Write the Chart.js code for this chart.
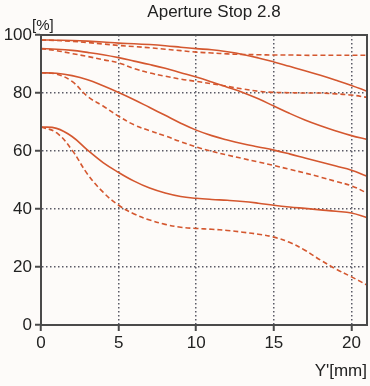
<!DOCTYPE html>
<html>
<head>
<meta charset="utf-8">
<script src="https://cdn.jsdelivr.net/npm/chart.js@4"></script>
<style>
  html, body { margin: 0; padding: 0; background: #fdfbf9; }
  #mtf-chart { width: 370px; height: 386px; }
</style>
</head>
<body>
<div id="mtf-chart"><canvas id="mtfCanvas" width="370" height="386"></canvas></div>
<script>
// Posiciones en la imagen (mm) y valores MTF (%)
var imageHeight = [0, 1, 2, 3, 4, 5, 6, 7, 8, 9, 10, 11, 12, 13, 14, 15, 16, 17, 18, 19, 20, 21];

var sagittal10 = [98.3, 98.2, 98.1, 97.9, 97.6, 97.2, 97.0, 96.7, 96.3, 95.8, 95.3, 94.9, 94.2, 93.3, 92.1, 90.7, 89.2, 87.7, 86.1, 84.4, 82.6, 80.6];
var meridional10 = [98.3, 98.1, 97.8, 97.4, 96.9, 96.4, 96.0, 95.6, 95.1, 94.6, 94.1, 93.8, 93.5, 93.3, 93.2, 93.1, 93.1, 93.0, 93.0, 93.0, 93.0, 93.0];
var sagittal20 = [95.3, 95.1, 94.7, 94.0, 93.2, 92.2, 91.0, 89.8, 88.5, 87.0, 85.5, 83.8, 82.0, 80.2, 78.0, 75.5, 73.0, 70.7, 68.7, 66.9, 65.3, 64.0];
var meridional20 = [95.3, 94.6, 93.6, 92.6, 91.5, 90.4, 88.4, 86.9, 85.8, 84.8, 84.0, 83.2, 82.3, 81.4, 80.6, 80.2, 80.1, 80.0, 80.0, 79.7, 79.3, 78.5];
var sagittal30 = [87.0, 86.8, 86.0, 84.6, 82.5, 80.2, 77.7, 75.0, 72.3, 69.6, 67.2, 65.3, 63.8, 62.5, 61.4, 60.3, 59.0, 57.6, 56.2, 54.8, 53.4, 51.3];
var meridional30 = [87.0, 86.5, 84.0, 78.8, 75.5, 72.0, 69.0, 67.0, 65.2, 63.2, 61.4, 59.9, 58.6, 57.4, 56.2, 55.0, 53.7, 52.4, 51.0, 49.5, 48.0, 45.5];
var sagittal40 = [68.3, 67.8, 65.0, 60.3, 56.0, 52.6, 49.6, 47.2, 45.5, 44.3, 43.7, 43.3, 43.0, 42.6, 42.0, 41.3, 40.7, 40.2, 39.7, 39.2, 38.6, 37.0];
var meridional40 = [68.3, 66.3, 60.3, 52.0, 45.8, 41.3, 38.3, 36.2, 34.7, 33.7, 33.3, 33.0, 32.6, 32.0, 31.3, 30.3, 28.5, 25.8, 22.4, 19.3, 16.6, 13.8];

var xTicks = [0, 5, 10, 15, 20];
var yTicks = [0, 20, 40, 60, 80, 100];

var titleText = "Aperture Stop 2.8";
var yUnit = "[%]";
var xUnit = "Y'[mm]";

var lineColor = "#d4572f";
var gridColor = "#5a5a66";
var axisColor = "#4a4a4a";
var fontName = "'Liberation Sans', Arial, sans-serif";

function toPoints(values) {
  return values.map(function (v, i) {
    return { x: imageHeight[i], y: v };
  });
}

function serie(values, dashed) {
  return {
    data: toPoints(values),
    borderColor: lineColor,
    borderWidth: 1.6,
    borderDash: dashed ? [5, 3] : [],
    pointRadius: 0,
    fill: false,
    tension: 0.4,
  };
}

// Marco del área y textos extra
var framePlugin = {
  id: "frame",
  afterDraw: function (chart) {
    var ctx = chart.ctx;
    var a = chart.chartArea;
    ctx.save();
    ctx.setLineDash([]);
    ctx.strokeStyle = axisColor;
    ctx.lineWidth = 2;
    ctx.strokeRect(a.left, a.top, a.right - a.left, a.bottom - a.top);
    ctx.fillStyle = "#222";
    ctx.textBaseline = "alphabetic";
    ctx.font = "17px " + fontName;
    ctx.textAlign = "center";
    ctx.fillText(titleText, 214, 17);
    ctx.font = "15px " + fontName;
    ctx.textAlign = "left";
    ctx.fillText(yUnit, 32, 30);
    ctx.restore();
  },
};

var mtfCanvas = document.getElementById("mtfCanvas").getContext("2d");

var mtfChart = new Chart(mtfCanvas, {
  type: "line",
  data: {
    datasets: [
      serie(sagittal10, false),
      serie(meridional10, true),
      serie(sagittal20, false),
      serie(meridional20, true),
      serie(sagittal30, false),
      serie(meridional30, true),
      serie(sagittal40, false),
      serie(meridional40, true),
    ],
  },
  options: {
    responsive: false,
    animation: false,
    layout: { padding: { top: 35, right: 3, bottom: 0, left: 0 } },
    plugins: {
      legend: { display: false },
      tooltip: { enabled: false },
    },
    scales: {
      x: {
        type: "linear",
        min: 0,
        max: 21,
        afterBuildTicks: function (scale) {
          scale.ticks = xTicks.map(function (v) { return { value: v }; });
        },
        afterFit: function (scale) { scale.height = 61; },
        grid: {
          color: gridColor,
          lineWidth: 1.5,
          tickLength: 6,
          tickColor: axisColor,
          tickWidth: 2,
          tickBorderDash: [],
        },
        border: { display: true, color: axisColor, width: 2, dash: [1.5, 2.5] },
        ticks: {
          color: "#222",
          padding: 2,
          maxRotation: 0,
          font: { family: fontName, size: 17 },
        },
        title: {
          display: true,
          text: xUnit,
          align: "end",
          color: "#222",
          font: { family: fontName, size: 17 },
          padding: { top: 0, bottom: 4 },
        },
      },
      y: {
        min: 0,
        max: 100,
        afterBuildTicks: function (scale) {
          scale.ticks = yTicks.map(function (v) { return { value: v }; });
        },
        afterFit: function (scale) { scale.width = 41; },
        grid: {
          color: gridColor,
          lineWidth: 1.5,
          tickLength: 6,
          tickColor: axisColor,
          tickWidth: 2,
          tickBorderDash: [],
        },
        border: { display: true, color: axisColor, width: 2, dash: [1.5, 2.5] },
        ticks: {
          color: "#222",
          padding: 3,
          font: { family: fontName, size: 17 },
        },
      },
    },
  },
  plugins: [framePlugin],
});
</script>
</body>
</html>
